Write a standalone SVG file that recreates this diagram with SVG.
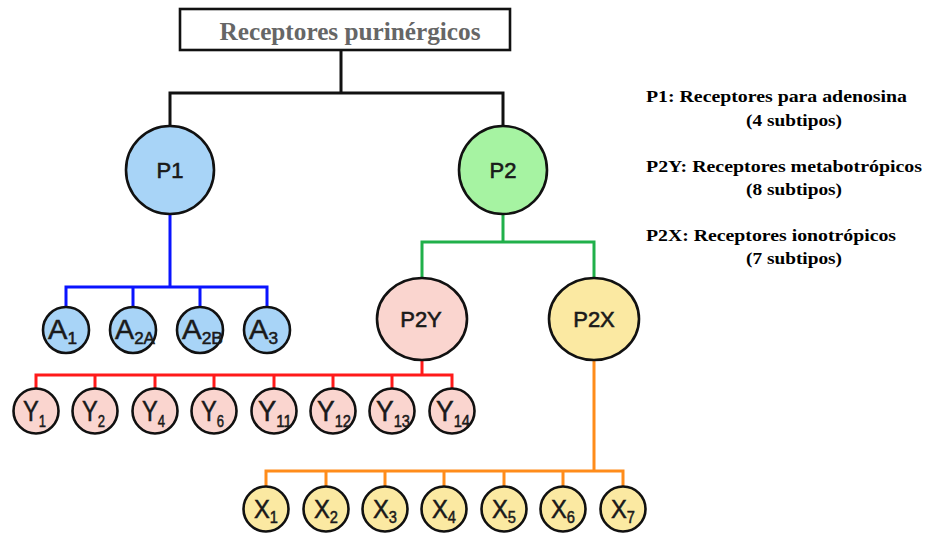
<svg xmlns="http://www.w3.org/2000/svg" width="927" height="534" viewBox="0 0 927 534">
<style>
.nd{stroke:#111;stroke-width:2.6}
.b{fill:#a8d4f7}.g{fill:#a6f3a2}.r{fill:#fad5cf}.y{fill:#fbe9a2}
.lbl{font-family:"Liberation Sans",Arial,sans-serif;fill:#1a1a1a;stroke:#1a1a1a;stroke-width:0.5}
.la{font-size:27px}.ly{font-size:29px}.lx{font-size:26px}
.sub{font-size:16px}
.pl{font-family:"Liberation Sans",Arial,sans-serif;font-size:22px;fill:#1a1a1a;stroke:#1a1a1a;stroke-width:0.6;text-anchor:middle}
.cn{fill:none;stroke-width:3;stroke-linejoin:miter}
.leg{font-family:"Liberation Serif","Times New Roman",serif;font-weight:bold;font-size:17px;fill:#000}
</style>
<rect width="927" height="534" fill="#fff"/>
<g id="connectors">
<path class="cn" stroke="#111" d="M341,50 V93 M170,126 V93 H503 V126"/>
<path class="cn" stroke="#0a14ff" d="M170,214 V287 M66,307 V287 H267 V307 M133,287 V307 M200,287 V307"/>
<path class="cn" stroke="#20b04a" d="M503,214 V242 M422,278 V242 H594 V278"/>
<path class="cn" stroke="#ff1a1a" d="M422,360 V375 M36,389 V375 H452 V389 M95,375 V389 M155,375 V389 M214,375 V389 M274,375 V389 M333,375 V389 M392,375 V389"/>
<path class="cn" stroke="#ff8c1a" d="M594,360 V471 M266,487 V471 H623 V487 M326,471 V487 M385,471 V487 M444,471 V487 M504,471 V487 M563,471 V487"/>
</g>
<g id="title">
<rect x="180" y="9" width="330" height="41" fill="#fff" stroke="#111" stroke-width="2.6"/>
<text x="350" y="40" text-anchor="middle" font-family="'Liberation Serif','Times New Roman',serif" font-weight="bold" font-size="25" fill="#666" textLength="261" lengthAdjust="spacingAndGlyphs">Receptores purinérgicos</text>
</g>
<g id="P1"><circle class="nd b" cx="170" cy="170" r="44"/><text class="pl" x="170" y="178">P1</text></g>
<g id="P2"><circle class="nd g" cx="503" cy="170" r="44"/><text class="pl" x="503" y="178">P2</text></g>
<g id="P2Y"><ellipse class="nd r" cx="422" cy="319" rx="45" ry="41"/><text class="pl" x="421" y="327">P2Y</text></g>
<g id="P2X"><ellipse class="nd y" cx="594" cy="319" rx="45" ry="41"/><text class="pl" x="594" y="327">P2X</text></g>
<g id="A1"><circle class="nd b" cx="66" cy="330" r="23"/><text class="lbl la" x="48" y="339" textLength="29" lengthAdjust="spacingAndGlyphs">A<tspan class="sub" dy="5">1</tspan></text></g>
<g id="A2A"><circle class="nd b" cx="133" cy="330" r="23"/><text class="lbl la" x="115" y="339" textLength="40" lengthAdjust="spacingAndGlyphs">A<tspan class="sub" dy="5">2A</tspan></text></g>
<g id="A2B"><circle class="nd b" cx="200" cy="330" r="23"/><text class="lbl la" x="182" y="339" textLength="41" lengthAdjust="spacingAndGlyphs">A<tspan class="sub" dy="5">2B</tspan></text></g>
<g id="A3"><circle class="nd b" cx="267" cy="330" r="23"/><text class="lbl la" x="249" y="339" textLength="29" lengthAdjust="spacingAndGlyphs">A<tspan class="sub" dy="5">3</tspan></text></g>
<g id="Y1"><circle class="nd r" cx="36" cy="411" r="22.5"/><text class="lbl ly" x="23" y="421" textLength="23" lengthAdjust="spacingAndGlyphs">Y<tspan class="sub" dy="6">1</tspan></text></g>
<g id="Y2"><circle class="nd r" cx="95" cy="411" r="22.5"/><text class="lbl ly" x="82" y="421" textLength="23" lengthAdjust="spacingAndGlyphs">Y<tspan class="sub" dy="6">2</tspan></text></g>
<g id="Y4"><circle class="nd r" cx="155" cy="411" r="22.5"/><text class="lbl ly" x="142" y="421" textLength="23" lengthAdjust="spacingAndGlyphs">Y<tspan class="sub" dy="6">4</tspan></text></g>
<g id="Y6"><circle class="nd r" cx="214" cy="411" r="22.5"/><text class="lbl ly" x="201" y="421" textLength="23" lengthAdjust="spacingAndGlyphs">Y<tspan class="sub" dy="6">6</tspan></text></g>
<g id="Y11"><circle class="nd r" cx="274" cy="411" r="22.5"/><text class="lbl ly" x="258" y="421" textLength="34" lengthAdjust="spacingAndGlyphs">Y<tspan class="sub" dy="6">11</tspan></text></g>
<g id="Y12"><circle class="nd r" cx="333" cy="411" r="22.5"/><text class="lbl ly" x="317" y="421" textLength="34" lengthAdjust="spacingAndGlyphs">Y<tspan class="sub" dy="6">12</tspan></text></g>
<g id="Y13"><circle class="nd r" cx="392" cy="411" r="22.5"/><text class="lbl ly" x="376" y="421" textLength="34" lengthAdjust="spacingAndGlyphs">Y<tspan class="sub" dy="6">13</tspan></text></g>
<g id="Y14"><circle class="nd r" cx="452" cy="411" r="22.5"/><text class="lbl ly" x="436" y="421" textLength="34" lengthAdjust="spacingAndGlyphs">Y<tspan class="sub" dy="6">14</tspan></text></g>
<g id="X1"><circle class="nd y" cx="266" cy="509" r="22.5"/><text class="lbl lx" x="254" y="518" textLength="24" lengthAdjust="spacingAndGlyphs">X<tspan class="sub" dy="5">1</tspan></text></g>
<g id="X2"><circle class="nd y" cx="326" cy="509" r="22.5"/><text class="lbl lx" x="314" y="518" textLength="24" lengthAdjust="spacingAndGlyphs">X<tspan class="sub" dy="5">2</tspan></text></g>
<g id="X3"><circle class="nd y" cx="385" cy="509" r="22.5"/><text class="lbl lx" x="373" y="518" textLength="24" lengthAdjust="spacingAndGlyphs">X<tspan class="sub" dy="5">3</tspan></text></g>
<g id="X4"><circle class="nd y" cx="444" cy="509" r="22.5"/><text class="lbl lx" x="432" y="518" textLength="24" lengthAdjust="spacingAndGlyphs">X<tspan class="sub" dy="5">4</tspan></text></g>
<g id="X5"><circle class="nd y" cx="504" cy="509" r="22.5"/><text class="lbl lx" x="492" y="518" textLength="24" lengthAdjust="spacingAndGlyphs">X<tspan class="sub" dy="5">5</tspan></text></g>
<g id="X6"><circle class="nd y" cx="563" cy="509" r="22.5"/><text class="lbl lx" x="551" y="518" textLength="24" lengthAdjust="spacingAndGlyphs">X<tspan class="sub" dy="5">6</tspan></text></g>
<g id="X7"><circle class="nd y" cx="623" cy="509" r="22.5"/><text class="lbl lx" x="611" y="518" textLength="24" lengthAdjust="spacingAndGlyphs">X<tspan class="sub" dy="5">7</tspan></text></g>
<g id="legend">
<text class="leg" x="646" y="102" textLength="261" lengthAdjust="spacingAndGlyphs">P1: Receptores para adenosina</text>
<text class="leg" x="746" y="126" textLength="96" lengthAdjust="spacingAndGlyphs">(4 subtipos)</text>
<text class="leg" x="646" y="172" textLength="276" lengthAdjust="spacingAndGlyphs">P2Y: Receptores metabotrópicos</text>
<text class="leg" x="746" y="195" textLength="96" lengthAdjust="spacingAndGlyphs">(8 subtipos)</text>
<text class="leg" x="646" y="241" textLength="250" lengthAdjust="spacingAndGlyphs">P2X: Receptores ionotrópicos</text>
<text class="leg" x="746" y="264" textLength="96" lengthAdjust="spacingAndGlyphs">(7 subtipos)</text>
</g>
</svg>
